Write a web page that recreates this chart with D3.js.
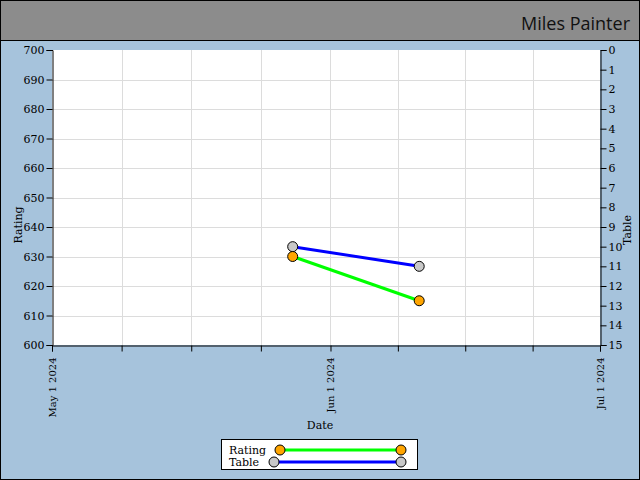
<!DOCTYPE html>
<html><head><meta charset="utf-8">
<script src="https://cdn.jsdelivr.net/npm/d3@7"></script>
<style>body{margin:0;}svg{display:block;}</style>
</head><body>
<script>
const dates = ["2024-05-27T19:00", "2024-06-10T21:00"];
const ratings = [630, 615];
const tables = [10, 11];
const ratingTicks = [600,610,620,630,640,650,660,670,680,690,700];
const tableTicks = d3.range(0,16);
const monthTicks = ["2024-05-01","2024-06-01","2024-07-01"];
const title = "Miles Painter";

const W=640,H=480;
const L=52,R=600,T=50,B=345;
const font = "'DejaVu Serif', serif";
const svg = d3.select("body").append("svg").attr("width",W).attr("height",H);
svg.append("rect").attr("width",W).attr("height",H).attr("fill","#a6c3dc");
svg.append("rect").attr("width",W).attr("height",40).attr("fill","#8c8c8c");
svg.append("line").attr("x1",0).attr("x2",W).attr("y1",40.5).attr("y2",40.5).attr("stroke","#000");
svg.append("rect").attr("x",0.5).attr("y",0.5).attr("width",W-1).attr("height",H-1).attr("fill","none").attr("stroke","#000");
svg.append("text").attr("x",630).attr("y",30).attr("text-anchor","end")
  .attr("font-family","'Comic Sans MS', 'Open Sans', sans-serif").attr("font-size",18).attr("fill","#111").text(title);

const parse = d3.timeParse("%Y-%m-%d");
const parseT = d3.timeParse("%Y-%m-%dT%H:%M");
const x = d3.scaleTime().domain([parse("2024-05-01"),parse("2024-07-01")]).range([L,R]);
const y = d3.scaleLinear().domain([600,700]).range([B,T]);
const y2 = d3.scaleLinear().domain([0,15]).range([T,B]);

svg.append("rect").attr("x",L).attr("y",T).attr("width",R-L).attr("height",B-T).attr("fill","#fff");

// quarter-month ticks
const minor=[];
for(let i=0;i<monthTicks.length-1;i++){
  const a=+parse(monthTicks[i]), b=+parse(monthTicks[i+1]);
  for(let k=0;k<4;k++) minor.push(new Date(a+(b-a)*k/4));
}
minor.push(parse(monthTicks[monthTicks.length-1]));

const g = svg.append("g");
g.selectAll(".vg").data(minor.slice(1,-1)).enter().append("line")
  .attr("x1",d=>Math.round(x(d))+0.5).attr("x2",d=>Math.round(x(d))+0.5).attr("y1",T).attr("y2",B).attr("stroke","#dcdcdc");
g.selectAll(".hg").data(ratingTicks.slice(1,-1)).enter().append("line")
  .attr("x1",L).attr("x2",R).attr("y1",d=>Math.round(y(d))+0.5).attr("y2",d=>Math.round(y(d))+0.5).attr("stroke","#dcdcdc");

const yAx = svg.append("g").attr("transform",`translate(${L+0.5},0)`)
  .call(d3.axisLeft(y).tickValues(ratingTicks).tickSize(6).tickPadding(2).tickFormat(d3.format("d")));
const y2Ax = svg.append("g").attr("transform",`translate(${R+0.5},0)`)
  .call(d3.axisRight(y2).tickValues(tableTicks).tickSize(6).tickPadding(2).tickFormat(d3.format("d")));
const xAx = svg.append("g").attr("transform",`translate(0,${B+0.5})`)
  .call(d3.axisBottom(x).tickValues(minor).tickSize(6).tickFormat(d=>{
     const s=d3.timeFormat("%Y-%m-%d")(d); return monthTicks.includes(s)?d3.timeFormat("%b %-d %Y")(d):"";}));
[yAx,y2Ax,xAx].forEach(a=>{a.selectAll("path").attr("stroke","#000");a.selectAll("line").attr("stroke","#000");
  a.selectAll("text").attr("font-family",font).attr("font-size",11).attr("fill","#000");});
xAx.selectAll("text").attr("transform","rotate(-90)").attr("text-anchor","end")
  .attr("x",-12).attr("y",0).attr("dy","0.35em").attr("font-size",10);

svg.append("text").attr("transform","translate(22,225) rotate(-90)").attr("text-anchor","middle")
  .attr("font-family",font).attr("font-size",11).text("Rating");
svg.append("text").attr("transform","translate(631,230) rotate(-90)").attr("text-anchor","middle")
  .attr("font-family",font).attr("font-size",11).text("Table");
svg.append("text").attr("x",320).attr("y",429).attr("text-anchor","middle")
  .attr("font-family",font).attr("font-size",11).text("Date");

const data = dates.map((d,i)=>({date:parseT(d),rating:ratings[i],table:tables[i]}));
const lineT = d3.line().x(d=>x(d.date)).y(d=>y2(d.table));
const lineR = d3.line().x(d=>x(d.date)).y(d=>y(d.rating));
svg.append("path").datum(data).attr("d",lineT).attr("fill","none").attr("stroke","#0000ff").attr("stroke-width",3);
svg.append("path").datum(data).attr("d",lineR).attr("fill","none").attr("stroke","#00ff00").attr("stroke-width",3);
svg.selectAll(".pt").data(data).enter().append("circle").attr("cx",d=>x(d.date)).attr("cy",d=>y2(d.table))
  .attr("r",5).attr("fill","#c8c8c8").attr("stroke","#000");
svg.selectAll(".pr").data(data).enter().append("circle").attr("cx",d=>x(d.date)).attr("cy",d=>y(d.rating))
  .attr("r",5).attr("fill","#ffa500").attr("stroke","#000");

// legend
const lg = svg.append("g");
lg.append("rect").attr("x",221.5).attr("y",439.5).attr("width",196).attr("height",30).attr("fill","#fff").attr("stroke","#000");
const legendItems=[{name:"Rating",color:"#00ff00",fill:"#ffa500",x1:280,y:450},{name:"Table",color:"#0000ff",fill:"#c8c8c8",x1:274,y:462}];
legendItems.forEach(it=>{
  lg.append("text").attr("x",229).attr("y",it.y+4).attr("font-family",font).attr("font-size",11).text(it.name);
  lg.append("line").attr("x1",it.x1).attr("x2",401).attr("y1",it.y).attr("y2",it.y).attr("stroke",it.color).attr("stroke-width",3);
  [it.x1,401].forEach(cx=>lg.append("circle").attr("cx",cx).attr("cy",it.y).attr("r",5).attr("fill",it.fill).attr("stroke","#000"));
});
</script>
</body></html>
